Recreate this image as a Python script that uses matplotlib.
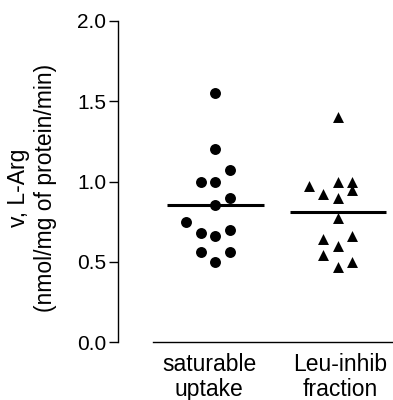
import numpy as np
import matplotlib
matplotlib.use("Agg")
import matplotlib.pyplot as plt

plt.rcParams['font.family'] = ['Liberation Sans', 'DejaVu Sans']

categories = ["saturable\nuptake", "Leu-inhib\nfraction"]
tick_pos = [1.0, 2.0]

# individual values
sat_vals = [1.55, 1.20, 1.07, 1.00, 1.00, 0.90, 0.855, 0.75,
            0.68, 0.66, 0.70, 0.56, 0.56, 0.50]
sat_cols = [0, 0, 1, -1, 0, 1, 0, -2, -1, 0, 1, -1, 1, 0]

leu_vals = [1.40, 0.97, 1.00, 1.00, 0.95, 0.92, 0.90, 0.77,
            0.64, 0.66, 0.60, 0.54, 0.50, 0.47]
leu_cols = [0, -2, 0, 1, 1, -1, 0, 0, -1, 1, 0, -1, 1, 0]

yticks = [0.0, 0.5, 1.0, 1.5, 2.0]

def main():
    fig = plt.figure(figsize=(3.93, 4.0), dpi=100)
    ax = fig.add_axes([153/393, 58/400, 240/393, 321/400])

    centers = [1.046, 1.985]
    step = 0.111
    x1 = centers[0] + np.array(sat_cols) * step
    x2 = centers[1] + np.array(leu_cols) * step
    ax.scatter(x1, sat_vals, s=62, marker='o', color='black', zorder=3, linewidths=0)
    ax.scatter(x2, leu_vals, s=62, marker='^', color='black', zorder=3, linewidths=0)

    # mean lines
    half = 0.37
    for c, vals in zip(centers, [sat_vals, leu_vals]):
        m = np.mean(vals)
        ax.plot([c - half, c + half], [m, m], color='black', lw=2.2, zorder=2,
                solid_capstyle='butt')

    ax.set_xlim(0.569, 2.408)
    ax.set_ylim(0, 2.0)
    ax.set_yticks(yticks)
    ax.set_yticklabels([f"{t:.1f}" for t in yticks])
    ax.set_xticks(tick_pos)
    ax.set_xticklabels(categories, linespacing=1.1)

    ax.spines['top'].set_visible(False)
    ax.spines['right'].set_visible(False)
    ax.spines['left'].set_position(('outward', 25.2))
    for s in ['left', 'bottom']:
        ax.spines[s].set_linewidth(1.0)

    ax.tick_params(axis='y', length=6.5, width=1.0, labelsize=15, pad=2)
    ax.tick_params(axis='x', length=0, labelsize=16.5, pad=8)
    ax.set_ylabel("v, L-Arg\n(nmol/mg of protein/min)", fontsize=16.5)
    ax.yaxis.set_label_coords(-0.40, 0.481)

    fig.savefig("out.png", dpi=100)

if __name__ == "__main__":
    main()
